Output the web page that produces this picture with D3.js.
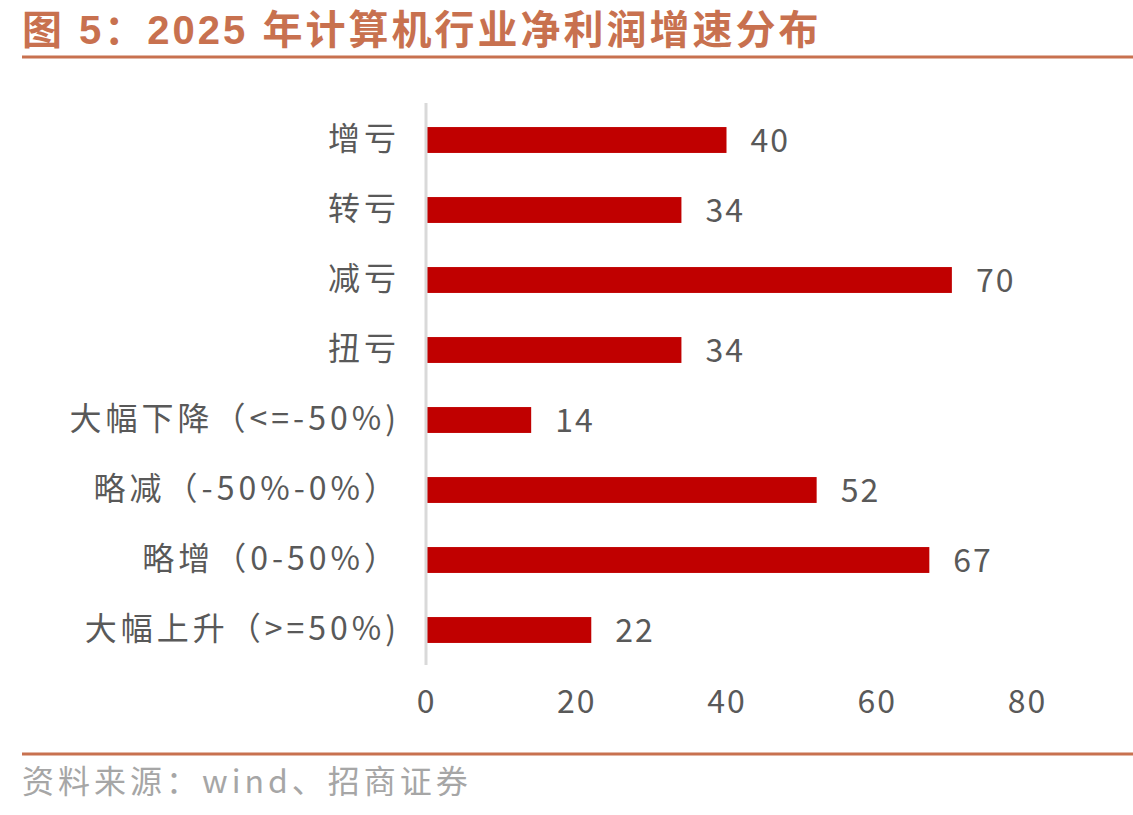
<!DOCTYPE html>
<html>
<head>
<meta charset="utf-8">
<script src="https://cdn.jsdelivr.net/npm/d3@7"></script>
<style>
  body { margin: 0; background: #fff; }
</style>
</head>
<body>
<div id="chart"></div>
<script>
const categories = ["增亏", "转亏", "减亏", "扭亏", "大幅下降（<=-50%)", "略减（-50%-0%）", "略增（0-50%）", "大幅上升（>=50%)"];
const counts = [40, 34, 70, 34, 14, 52, 67, 22];
const xTicks = [0, 20, 40, 60, 80];

const W = 1133, H = 815;
const accent = "#c8714f";
const font = "'Noto Sans CJK SC', 'Noto Sans', sans-serif";

const svg = d3.select("#chart").append("svg")
  .attr("width", W)
  .attr("height", H);

// title + rules
svg.append("text")
  .attr("x", 22).attr("y", 44)
  .attr("font-family", "'Liberation Sans', 'Noto Sans CJK SC', sans-serif")
  .attr("font-weight", 700)
  .attr("font-size", 40)
  .attr("letter-spacing", 3)
  .attr("fill", accent)
  .text("图 5：2025 年计算机行业净利润增速分布");

svg.append("line")
  .attr("x1", 22).attr("x2", W).attr("y1", 57).attr("y2", 57)
  .attr("stroke", accent).attr("stroke-width", 3);

svg.append("line")
  .attr("x1", 22).attr("x2", W).attr("y1", 754).attr("y2", 754)
  .attr("stroke", accent).attr("stroke-width", 3);

svg.append("text")
  .attr("x", 22).attr("y", 793)
  .attr("font-family", font)
  .attr("font-size", 32)
  .attr("letter-spacing", 4)
  .attr("fill", "#a6a6a6")
  .text("资料来源：wind、招商证券");

// scales
const x = d3.scaleLinear().domain([0, 80]).range([426, 1027]);
const y = d3.scaleBand().domain(categories).range([105, 665]).paddingInner(0.63).paddingOuter(0.315);

// bars
svg.selectAll("rect.bar")
  .data(categories)
  .join("rect")
  .attr("class", "bar")
  .attr("x", x(0))
  .attr("y", d => y(d))
  .attr("width", (d, i) => x(counts[i]) - x(0))
  .attr("height", y.bandwidth())
  .attr("fill", "#c00000");

// value labels
svg.selectAll("text.val")
  .data(categories)
  .join("text")
  .attr("class", "val")
  .attr("x", (d, i) => x(counts[i]) + 24)
  .attr("y", d => y(d) + y.bandwidth() / 2)
  .attr("dy", "0.36em")
  .attr("font-family", font)
  .attr("font-size", 32)
  .attr("letter-spacing", 2)
  .attr("fill", "#595959")
  .text((d, i) => counts[i]);

// category axis
const yAxis = svg.append("g")
  .attr("transform", `translate(${x(0)},0)`)
  .call(d3.axisLeft(y).tickSize(0).tickPadding(26));
yAxis.select(".domain").remove();
yAxis.selectAll(".tick text")
  .attr("font-family", font)
  .attr("font-size", 32)
  .attr("letter-spacing", 4)
  .attr("fill", "#595959");

svg.append("line")
  .attr("x1", x(0)).attr("x2", x(0))
  .attr("y1", 103).attr("y2", 665)
  .attr("stroke", "#d9d9d9").attr("stroke-width", 3);

// value axis (labels only)
const xAxis = svg.append("g")
  .attr("transform", "translate(0,690)")
  .call(d3.axisBottom(x).tickValues(xTicks).tickSize(0).tickPadding(0));
xAxis.select(".domain").remove();
xAxis.selectAll(".tick text")
  .attr("font-family", font)
  .attr("font-size", 32)
  .attr("letter-spacing", 2)
  .attr("fill", "#595959");
</script>
</body>
</html>
